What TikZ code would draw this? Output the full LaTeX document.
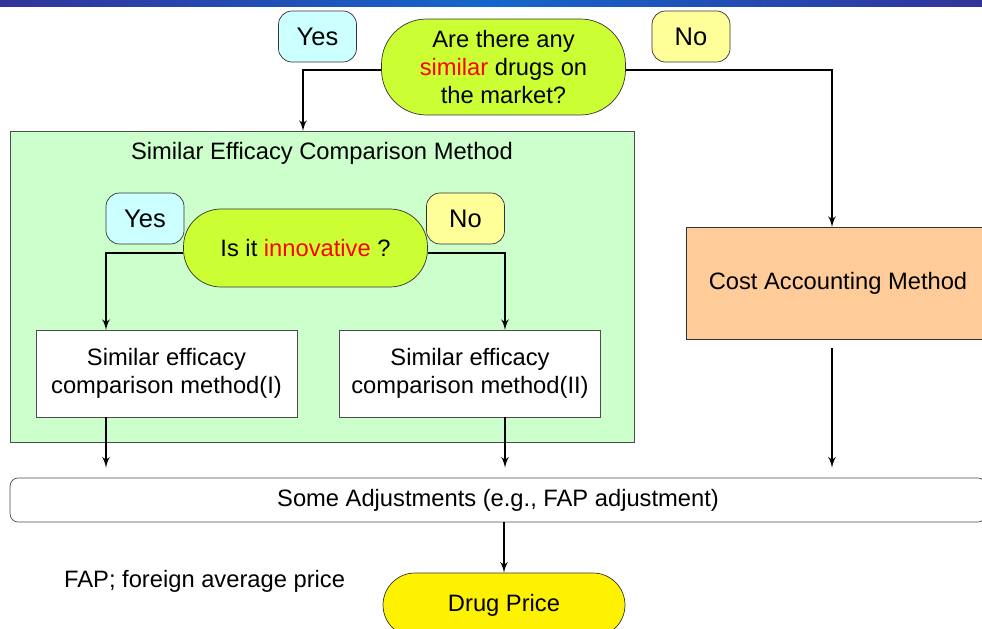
\documentclass[tikz,border=0pt]{standalone}
\usepackage{fontspec}
\setmainfont{Liberation Sans}
\usepackage{tikz}
\usetikzlibrary{arrows}
\usetikzlibrary{positioning}
\definecolor{askgreen}{HTML}{CCFF33}
\definecolor{yescyan}{HTML}{CCFFFF}
\definecolor{noyellow}{HTML}{FFFF99}
\definecolor{boxgreen}{HTML}{CCFFCC}
\definecolor{costorange}{HTML}{FFCC99}
\definecolor{bannerdark}{HTML}{32339A}
\definecolor{bannerlight}{HTML}{1466CC}
\tikzset{x=0.02cm, y=-0.02cm,
    every node/.style={
        font=\fontsize{13.5}{16.2}\selectfont,
        align=center},
    answer/.style={
        draw=black!80,
        thin,
        rounded corners=0.27cm,
        minimum width=1.56cm,
        minimum height=1.02cm,
        inner sep=0pt,
        font=\fontsize{14.5}{17}\selectfont},
    yes/.style={answer, fill=yescyan},
    no/.style={answer, fill=noyellow},
    question/.style={
        draw=black!80,
        thin,
        fill=askgreen,
        inner sep=0pt,
        minimum width=4.88cm},
    method/.style={
        draw=black!70,
        thin,
        fill=white,
        inner sep=0pt,
        minimum width=5.22cm,
        minimum height=1.74cm},
    flow/.style={
        draw,
        ->,>=latex',
        line width=1.1pt}}

\begin{document}
\begin{tikzpicture}
        \useasboundingbox (0,0) rectangle (982,628);
        \clip (0,0) rectangle (982,628);
        \shade[left color=bannerdark, right color=bannerdark, middle color=bannerlight]
            (0,0) rectangle (982,7);

        \node[yes] (yes1) at (317.5,36.5) {Yes};
        \node[question, rounded corners=0.9cm, minimum height=1.92cm] (ask1) at (503.5,67)
            {Are there any\\ \textcolor{red}{similar} drugs on\\ the market?};
        \node[no] (no1) at (691,36.5) {No};

        \node[draw=black!70, thin, fill=boxgreen, inner sep=0pt,
            minimum width=12.48cm, minimum height=6.22cm] (similar) at (322,286.5) {};
        \node (similarTitle) at (322,153) {Similar Efficacy Comparison Method};

        \node[yes] (yes2) at (145,218.5) {Yes};
        \node[question, rounded corners=0.75cm, minimum height=1.56cm] (ask2) at (305.5,248)
            {Is it \textcolor{red}{innovative} ?};
        \node[no] (no2) at (465.5,218.5) {No};

        \node[method] (method1) at (166.5,373.5) {Similar efficacy\\ comparison method(I)};
        \node[method] (method2) at (470,373.5) {Similar efficacy\\ comparison method(II)};

        \node[draw=black!80, thin, fill=costorange, inner sep=0pt,
            minimum width=6.08cm, minimum height=2.24cm] (cost) at (838,283) {Cost Accounting Method};

        \node[draw=black!70, thin, rounded corners=0.16cm, inner sep=0pt,
            minimum width=19.52cm, minimum height=0.88cm] (adjust) at (498,500)
            {Some Adjustments (e.g., FAP adjustment)};

        \node[draw=black!80, thin, fill=yellow, rounded corners=0.64cm, inner sep=0pt,
            minimum width=4.84cm, minimum height=1.28cm] (price) at (504,605) {Drug Price};
        \node[anchor=west] (fap) at (58,581) {FAP; foreign average price};

        \coordinate (similarIn) at (303,131);
        \coordinate (costIn) at (832,227);
        \coordinate (method1In) at (106,330);
        \coordinate (method2In) at (505,330);

        \draw[flow] ([yshift=-0.06cm]ask1.west) -| (similarIn);
        \draw[flow] ([yshift=-0.06cm]ask1.east) -| (costIn);
        \draw[flow] ([yshift=-0.1cm]ask2.west) -| (method1In);
        \draw[flow] ([yshift=-0.1cm]ask2.east) -| (method2In);

        \draw[flow, shorten >=0.2cm] (method1In |- method1.south) -- (method1In |- adjust.north);
        \draw[flow, shorten >=0.2cm] (method2In |- method2.south) -- (method2In |- adjust.north);
        \draw[flow, shorten <=0.18cm, shorten >=0.2cm] (costIn |- cost.south) -- (costIn |- adjust.north);
        \draw[flow] (price.north |- adjust.south) -- (price.north);
    \end{tikzpicture}
\end{document}
